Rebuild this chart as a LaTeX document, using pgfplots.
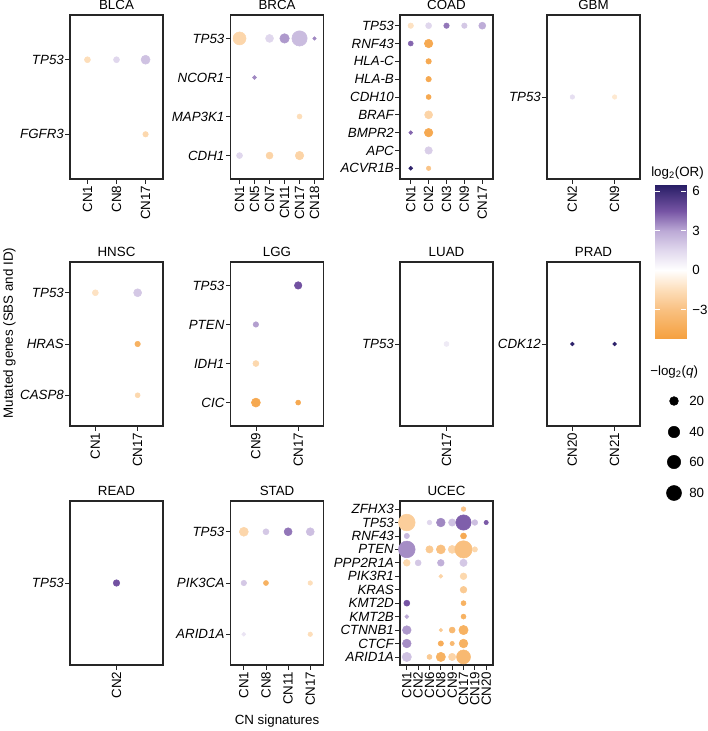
\documentclass[border=0pt]{standalone}
\usepackage{fontspec}
\setmainfont{Liberation Sans}
\usepackage{pgfplots}
\pgfplotsset{compat=1.18}
\pgfplotsset{
  colormap={or}{rgb255(0cm)=(245,160,62); rgb255(2.23cm)=(249,192,128); rgb255(3.73cm)=(253,222,186); rgb255(5.23cm)=(255,255,255); rgb255(6.73cm)=(224,215,237); rgb255(8.23cm)=(188,170,214); rgb255(9.73cm)=(118,84,164); rgb255(11.69cm)=(40,30,102)},
  panel/.style={
    scale only axis, width=69.75pt, height=123pt, anchor=north west,
    y dir=reverse, tick pos=left, tick align=outside,
    major tick length=3.4pt,
    axis line style={line width=0.8pt, black!85},
    major tick style={line width=0.6pt, black!85},
    every axis title/.style={at={(0.5,1)}, anchor=base, yshift=4.1pt, inner sep=0pt},
    yticklabel style={font=\itshape, inner sep=1pt},
    xticklabel style={rotate=90, anchor=east, inner sep=1.5pt},
    colormap name=or, point meta min=-5.23, point meta max=6.46,
    clip=false,
  },
  dots/.style={scatter, only marks, mark=*, point meta=\thisrow{c},
    scatter/use mapped color={draw=mapped color, fill=mapped color},
    visualization depends on={0.375*(3.5+1.319*sqrt(max(\thisrow{q}-4,0))) \as \rad},
    scatter/@pre marker code/.append style={/tikz/mark size=\rad pt}},
}
\begin{document}
\fontsize{10}{12}\selectfont
\begin{tikzpicture}
\useasboundingbox (0,0) rectangle (530.25pt,-548.25pt);

% ---------------- Row 1 ----------------
\begin{axis}[panel, at={(52.5pt,-11.25pt)}, title=BLCA,
  xmin=-0.6, xmax=2.6, ymin=-0.6, ymax=1.6,
  xtick={0,1,2}, xticklabels={CN1,CN8,CN17},
  ytick={0,1}, yticklabels={TP53,FGFR3}]
\addplot[dots] table[row sep=\\]{x y c q\\
0 0 -1.5 7.6\\ 1 0 1.5 7.6\\ 2 0 2.2 21.4\\ 2 1 -1.8 6.3\\};
\end{axis}

\begin{axis}[panel, at={(172.9pt,-11.25pt)}, title=BRCA,
  xmin=-0.6, xmax=5.6, ymin=-0.6, ymax=3.6,
  xtick={0,...,5}, xticklabels={CN1,CN5,CN7,CN11,CN17,CN18},
  ytick={0,...,3}, yticklabels={TP53,NCOR1,MAP3K1,CDH1}]
\addplot[dots] table[row sep=\\]{x y c q\\
0 0 -1.9 55.9\\ 2 0 1.5 15.6\\ 3 0 3.3 24.7\\ 4 0 2.4 84\\ 5 0 3.6 4\\
1 1 3.6 4.1\\ 4 2 -1.5 5.3\\
0 3 1.5 7.6\\ 2 3 -2.0 11.0\\ 4 3 -2.0 18.4\\};
\end{axis}

\begin{axis}[panel, at={(300pt,-11.25pt)}, title=COAD,
  xmin=-0.6, xmax=4.6, ymin=-0.6, ymax=8.6,
  xtick={0,...,4}, xticklabels={CN1,CN2,CN3,CN9,CN17},
  ytick={0,...,8}, yticklabels={TP53,RNF43,HLA-C,HLA-B,CDH10,BRAF,BMPR2,APC,ACVR1B}]
\addplot[dots] table[row sep=\\]{x y c q\\
0 0 -1.3 6.3\\ 1 0 1.5 7.6\\ 2 0 3.9 6.3\\ 3 0 2.0 6.3\\ 4 0 2.9 11.0\\
0 1 4.2 5.3\\ 1 1 -4.6 18.4\\
1 2 -4.6 6.3\\ 1 3 -4.6 6.3\\ 1 4 -4.6 5.3\\
1 5 -2.0 15.6\\
0 6 4.2 4.1\\ 1 6 -4.6 18.4\\
1 7 1.8 13.2\\
0 8 6.3 4.1\\ 1 8 -2.8 4.6\\};
\end{axis}

\begin{axis}[panel, at={(410.25pt,-11.25pt)}, title=GBM,
  xmin=-0.6, xmax=1.6, ymin=-0.6, ymax=0.6,
  xtick={0,1}, xticklabels={CN2,CN9},
  ytick={0}, yticklabels={TP53}]
\addplot[dots] table[row sep=\\]{x y c q\\
0 0 1.2 4.6\\ 1 0 -1.0 4.6\\};
\end{axis}

% ---------------- Row 2 ----------------
\begin{axis}[panel, at={(52.5pt,-196.5pt)}, title=HNSC,
  xmin=-0.6, xmax=1.6, ymin=-0.6, ymax=2.6,
  xtick={0,1}, xticklabels={CN1,CN17},
  ytick={0,1,2}, yticklabels={TP53,HRAS,CASP8}]
\addplot[dots] table[row sep=\\]{x y c q\\
0 0 -1.3 7.6\\ 1 0 2.0 15.6\\ 1 1 -4.0 6.3\\ 1 2 -1.8 5.3\\};
\end{axis}

\begin{axis}[panel, at={(172.9pt,-196.5pt)}, title=LGG,
  xmin=-0.6, xmax=1.6, ymin=-0.6, ymax=3.6,
  xtick={0,1}, xticklabels={CN9,CN17},
  ytick={0,...,3}, yticklabels={TP53,PTEN,IDH1,CIC}]
\addplot[dots] table[row sep=\\]{x y c q\\
1 0 4.6 13.2\\ 0 1 3.2 6.3\\ 0 2 -1.8 7.6\\ 0 3 -4.6 21.4\\ 1 3 -4.6 5.3\\};
\end{axis}

\begin{axis}[panel, at={(300pt,-196.5pt)}, title=LUAD,
  xmin=-0.6, xmax=0.6, ymin=-0.6, ymax=0.6,
  xtick={0}, xticklabels={CN17},
  ytick={0}, yticklabels={TP53}]
\addplot[dots] table[row sep=\\]{x y c q\\
0 0 0.8 5.3\\};
\end{axis}

\begin{axis}[panel, at={(410.25pt,-196.5pt)}, title=PRAD,
  xmin=-0.6, xmax=1.6, ymin=-0.6, ymax=0.6,
  xtick={0,1}, xticklabels={CN20,CN21},
  ytick={0}, yticklabels={CDK12}]
\addplot[dots] table[row sep=\\]{x y c q\\
0 0 6.3 4.1\\ 1 0 6.3 4.1\\};
\end{axis}

% ---------------- Row 3 ----------------
\begin{axis}[panel, at={(52.5pt,-375.75pt)}, title=READ,
  xmin=-0.6, xmax=0.6, ymin=-0.6, ymax=0.6,
  xtick={0}, xticklabels={CN2},
  ytick={0}, yticklabels={TP53}]
\addplot[dots] table[row sep=\\]{x y c q\\
0 0 4.6 9.2\\};
\end{axis}

\begin{axis}[panel, at={(172.9pt,-375.75pt)}, title=STAD,
  xmin=-0.6, xmax=3.6, ymin=-0.6, ymax=2.6,
  xtick={0,...,3}, xticklabels={CN1,CN8,CN11,CN17},
  ytick={0,1,2}, yticklabels={TP53,PIK3CA,ARID1A}]
\addplot[dots] table[row sep=\\]{x y c q\\
0 0 -1.9 21.4\\ 1 0 2.0 7.6\\ 2 0 3.9 15.6\\ 3 0 2.3 15.6\\
0 1 2.0 6.3\\ 1 1 -4.0 5.3\\ 3 1 -1.5 4.6\\
0 2 1.0 4.1\\ 3 2 -1.5 4.6\\};
\end{axis}

\begin{axis}[panel, at={(300pt,-375.75pt)}, title=UCEC,
  xmin=-0.6, xmax=7.6, ymin=-0.6, ymax=11.6,
  xtick={0,...,7}, xticklabels={CN1,CN2,CN6,CN8,CN9,CN17,CN19,CN20},
  ytick={0,...,11}, yticklabels={ZFHX3,TP53,RNF43,PTEN,PPP2R1A,PIK3R1,KRAS,KMT2D,KMT2B,CTNNB1,CTCF,ARID1A}]
\addplot[dots] table[row sep=\\]{x y c q\\
5 0 -2.8 4.8\\
0 1 -2.3 104\\ 2 1 1.5 4.8\\ 3 1 3.6 19.5\\ 4 1 2.2 12.3\\ 5 1 4.3 84\\ 6 1 2.3 6.8\\ 7 1 4.4 4.4\\
0 2 2.5 5.9\\ 5 2 -4.5 7.6\\
0 3 3.5 104\\ 2 3 -2.5 12.3\\ 3 3 -3.0 21.4\\ 4 3 -2.0 15.6\\ 5 3 -3.0 113\\ 6 3 -1.8 5.9\\
0 4 -1.8 9.9\\ 1 4 2.0 7.6\\ 3 4 2.8 9.9\\ 5 4 2.0 12.3\\
3 5 -2.0 4.1\\ 5 5 -1.8 9.9\\
5 6 -2.5 9.9\\
0 7 4.5 7.6\\ 5 7 -4.0 5.3\\
0 8 3.0 4.1\\ 5 8 -4.0 5.3\\
0 9 3.3 19.5\\ 3 9 -2.5 4\\ 4 9 -3.5 7.6\\ 5 9 -4.0 23.3\\
0 10 3.5 19.5\\ 3 10 -4.3 5.9\\ 4 10 -3.5 4.4\\ 5 10 -4.0 19.5\\
0 11 2.2 23.3\\ 2 11 -2.5 5.3\\ 3 11 -4.0 23.3\\ 4 11 -2.0 12.3\\ 5 11 -3.5 67.4\\};
\end{axis}

% ---------------- Colour bar (own axis, shaded patches) ----------------
\begin{axis}[at={(491.25pt,-138.75pt)}, anchor=north west, scale only axis,
  width=23.25pt, height=115.5pt, xmin=0, xmax=1, ymin=-5.23, ymax=6.46,
  colormap name=or, point meta min=-5.23, point meta max=6.46,
  axis line style={draw=none}, xtick=\empty,
  ytick={-3,0,3,6}, yticklabels={−3,0,3,6},
  ytick pos=right, yticklabel pos=right,
  tick align=inside, major tick length=3.75pt,
  major tick style={white, line width=0.6pt},
  extra y ticks={-3,0,3,6}, extra y tick labels={},
  extra y tick style={ytick pos=left, major tick style={white, line width=0.6pt}},
  yticklabel style={inner sep=0pt, anchor=west, xshift=4.5pt},
  axis on top]
\addplot[patch, shader=interp, point meta=y] coordinates {
(0,-5.23) (1,-5.23) (0,-3) (1,-5.23) (1,-3) (0,-3)
(0,-3) (1,-3) (0,-1.5) (1,-3) (1,-1.5) (0,-1.5)
(0,-1.5) (1,-1.5) (0,0) (1,-1.5) (1,0) (0,0)
(0,0) (1,0) (0,1.5) (1,0) (1,1.5) (0,1.5)
(0,1.5) (1,1.5) (0,3) (1,1.5) (1,3) (0,3)
(0,3) (1,3) (0,4.5) (1,3) (1,4.5) (0,4.5)
(0,4.5) (1,4.5) (0,6.46) (1,4.5) (1,6.46) (0,6.46)
};
\end{axis}

% ---------------- Overlay: size legend and labels ----------------
\begin{axis}[at={(0pt,0pt)}, anchor=north west, scale only axis,
  width=530.25pt, height=548.25pt, xmin=0, xmax=707, ymin=0, ymax=731,
  y dir=reverse, hide axis, clip=false]
\addplot[scatter, only marks, mark=*, point meta=\thisrow{q},
  scatter/use mapped color={draw=black, fill=black},
  visualization depends on={0.375*(3.5+1.319*sqrt(max(\thisrow{q}-4,0))) \as \rad},
  scatter/@pre marker code/.append style={/tikz/mark size=\rad pt}]
  table[row sep=\\]{x y q\\ 674 401 20\\ 674 432 40\\ 674 462 60\\ 674 493 80\\};
\node[anchor=west, inner sep=0pt] at (axis cs:689,401) {20};
\node[anchor=west, inner sep=0pt] at (axis cs:689,432) {40};
\node[anchor=west, inner sep=0pt] at (axis cs:689,462) {60};
\node[anchor=west, inner sep=0pt] at (axis cs:689,493) {80};
\node[anchor=west, inner sep=0pt] at (axis cs:650,372) {−log\textsubscript{2}(\textit{q})};
\node[anchor=west, inner sep=0pt] at (axis cs:651,173) {log\textsubscript{2}(OR)};
\node[rotate=90, inner sep=0pt] at (axis cs:9.5,333) {Mutated genes (SBS and ID)};
\node[inner sep=0pt] at (axis cs:277,721) {CN signatures};
\end{axis}
\end{tikzpicture}
\end{document}
